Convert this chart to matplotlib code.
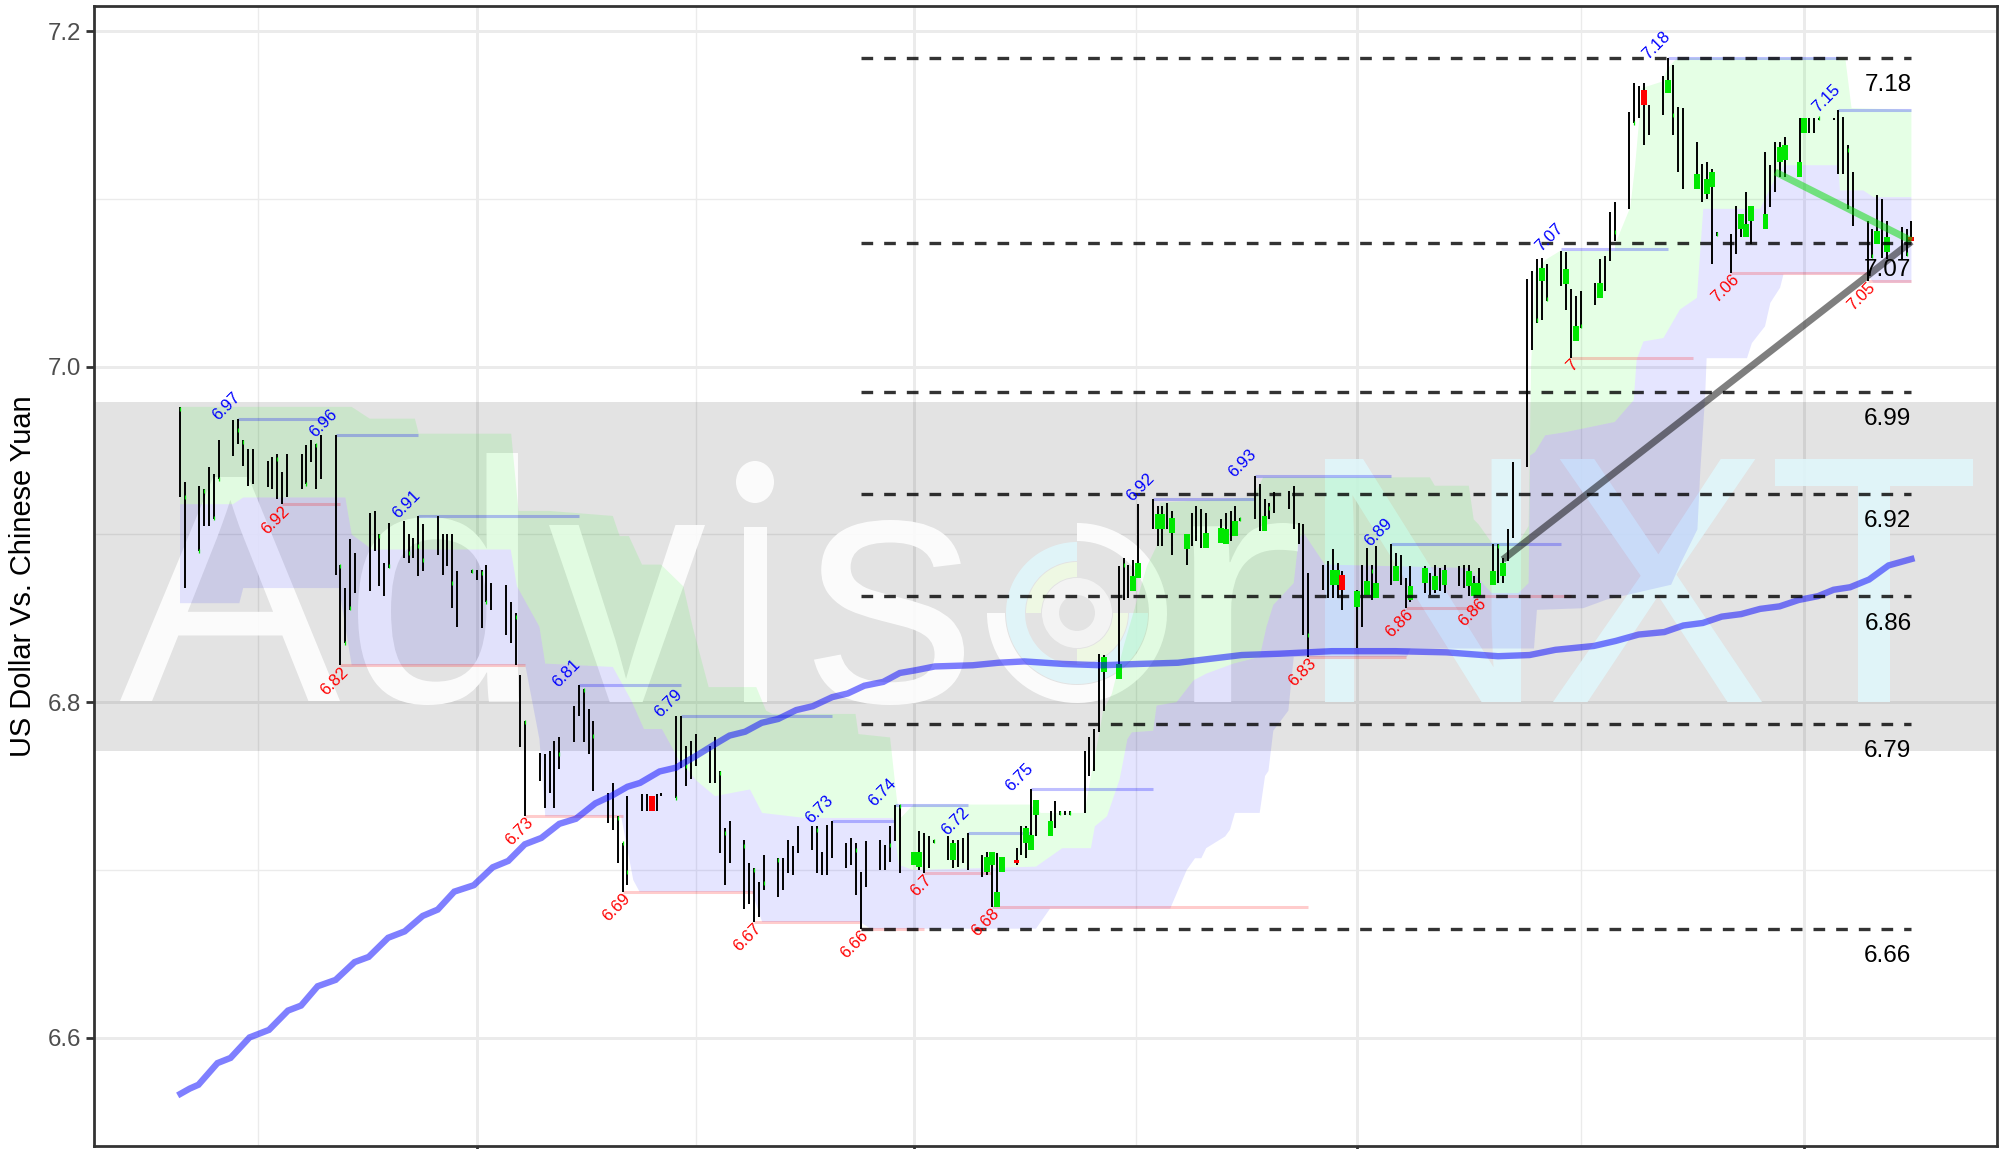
import numpy as np
import matplotlib
matplotlib.use('Agg')
import matplotlib.pyplot as plt
from matplotlib.font_manager import FontProperties
from matplotlib.patches import PathPatch, Wedge, Ellipse
from matplotlib.path import Path
from matplotlib.textpath import TextPath
from matplotlib.transforms import Affine2D, IdentityTransform

plt.rcParams['font.family'] = ['Liberation Sans', 'DejaVu Sans']

# daily bars, x is calendar days from the first bar
bar_d = [0,1,4,5,6,7,8,11,12,13,14,15,18,19,20,21,22,25,26,27,28,29,32,33,34,35,36,39,40,41,42,43,
         46,47,48,49,50,53,54,55,56,57,60,61,62,63,64,67,68,69,70,71,74,75,76,77,78,81,82,83,84,85,
         88,89,90,91,92,95,96,98,99,102,103,104,105,106,109,110,111,112,113,116,117,118,119,120,
         123,124,125,126,127,130,131,132,133,134,137,138,139,140,141,144,145,146,147,148,
         151,152,153,154,155,158,159,160,161,162,165,166,167,168,169,172,173,174,175,176,
         179,180,181,182,183,186,187,188,189,190,193,194,195,196,197,200,201,202,203,204,
         207,208,209,210,211,214,215,216,217,218,221,222,223,224,225,228,229,230,231,232,
         235,236,237,238,239,242,243,244,245,246,249,250,251,252,253,256,257,258,259,260,
         263,264,265,266,267,270,271,272,273,274,277,278,279,280,281,284,285,286,287,288,
         291,292,293,294,295,298,299,300,301,302,305,306,307,308,309,312,313,314,315,316,
         319,320,321,322,323,326,327,328,329,330,333,334,335,336,337,340,341,342,343,344,
         347,348,349,350,351,354,355,356]
bar_high = [6.976,6.931,6.929,6.927,6.940,6.936,6.956,6.968,6.969,6.956,6.951,6.951,6.944,6.946,6.948,6.937,6.948,
            6.948,6.953,6.956,6.954,6.959,6.959,6.882,6.868,6.897,6.889,6.913,6.914,6.900,6.883,6.907,
            6.908,6.900,6.898,6.911,6.906,6.911,6.900,6.900,6.900,6.878,6.879,6.879,6.879,6.882,6.871,
            6.870,6.860,6.853,6.816,6.789,6.770,6.769,6.771,6.777,6.779,6.798,6.810,6.808,6.796,6.789,
            6.746,6.752,6.732,6.716,6.744,6.745,6.745,6.745,6.746,6.792,6.792,6.774,6.777,6.781,
            6.774,6.779,6.759,6.725,6.729,6.718,6.704,6.701,6.693,6.709,
            6.707,6.707,6.718,6.714,6.726,6.726,6.726,6.711,6.727,6.729,6.716,6.719,6.716,6.699,6.717,
            6.718,6.715,6.726,6.739,6.739,
            6.711,6.723,6.722,6.720,6.718,6.720,6.718,6.718,6.719,6.722,6.709,6.711,6.711,6.710,6.708,
            6.713,6.726,6.726,6.748,6.742,
            6.735,6.741,6.735,6.735,6.735,6.771,6.779,6.784,6.829,6.828,6.881,6.886,6.882,6.885,6.918,
            6.921,6.917,6.917,6.919,6.914,
            6.900,6.913,6.917,6.915,6.913,6.909,6.913,6.914,6.917,6.910,6.935,6.930,6.921,6.919,6.925,
            6.926,6.929,6.907,6.906,6.877,
            6.882,6.884,6.891,6.883,6.878,6.867,6.882,6.892,6.882,6.893,6.894,6.889,6.888,6.874,6.881,
            6.881,6.877,6.882,6.880,6.882,
            6.881,6.882,6.882,6.875,6.880,6.894,6.894,6.886,6.903,6.943,7.052,7.057,7.064,7.065,7.061,
            7.069,7.068,7.046,7.042,7.045,
            7.050,7.064,7.066,7.092,7.098,7.152,7.169,7.167,7.169,7.156,7.173,7.184,7.180,7.155,7.154,
            7.134,7.121,7.122,7.118,7.080,
            7.079,7.096,7.091,7.104,7.096,7.128,7.120,7.134,7.134,7.137,7.148,7.148,7.148,7.148,7.148,
            7.148,7.153,7.149,7.132,7.116,
            7.087,7.082,7.102,7.100,7.087,7.083,7.082,7.087]
bar_low = [6.922,6.868,6.890,6.905,6.905,6.909,6.933,6.947,6.954,6.941,6.929,6.930,6.928,6.927,6.921,6.918,6.922,
           6.927,6.930,6.943,6.927,6.933,6.876,6.822,6.835,6.855,6.865,6.866,6.890,6.869,6.863,6.880,
           6.886,6.883,6.886,6.875,6.878,6.888,6.876,6.881,6.856,6.845,6.877,6.873,6.844,6.860,6.855,
           6.840,6.835,6.822,6.773,6.732,6.753,6.737,6.746,6.737,6.760,6.776,6.792,6.776,6.769,6.747,
           6.728,6.724,6.704,6.687,6.691,6.735,6.735,6.735,6.744,6.743,6.761,6.750,6.754,6.762,
           6.752,6.752,6.710,6.691,6.704,6.677,6.680,6.669,6.672,6.688,
           6.684,6.688,6.698,6.697,6.710,6.712,6.698,6.697,6.697,6.707,6.701,6.703,6.685,6.665,6.690,
           6.700,6.700,6.705,6.717,6.698,
           6.703,6.700,6.698,6.701,6.716,6.706,6.701,6.702,6.704,6.700,6.696,6.697,6.678,6.678,6.699,
           6.703,6.709,6.707,6.712,6.720,
           6.720,6.725,6.733,6.733,6.733,6.734,6.756,6.759,6.782,6.795,6.814,6.861,6.862,6.866,6.874,
           6.903,6.893,6.893,6.903,6.888,
           6.882,6.893,6.896,6.892,6.892,6.895,6.894,6.896,6.899,6.908,6.909,6.902,6.902,6.909,6.913,
           6.915,6.903,6.894,6.840,6.827,
           6.867,6.862,6.862,6.862,6.855,6.832,6.845,6.864,6.861,6.862,6.870,6.872,6.870,6.856,6.860,
           6.865,6.864,6.865,6.866,6.865,
           6.869,6.868,6.863,6.863,6.863,6.870,6.871,6.871,6.884,6.898,6.940,7.010,7.026,7.028,7.039,
           7.048,7.034,7.005,7.015,7.023,
           7.037,7.041,7.045,7.063,7.075,7.094,7.145,7.148,7.132,7.138,7.150,7.163,7.138,7.116,7.106,
           7.106,7.098,7.100,7.061,7.078,
           7.056,7.067,7.077,7.077,7.073,7.082,7.095,7.104,7.113,7.113,7.113,7.139,7.139,7.139,7.147,
           7.147,7.115,7.115,7.094,7.084,
           7.051,7.065,7.073,7.065,7.064,7.064,7.066,7.075]

# wide bodies
up_d = [151,152,159,166,167,168,169,174,175,176,179,190,193,196,197,201,202,204,207,211,214,215,217,223,
        237,238,242,244,246,250,253,256,258,260,265,266,267,270,272,280,285,287,292,306,312,314,315,
        321,322,323,326,329,330,333,334,349,351]
up_low = [6.703,6.702,6.706,6.699,6.703,6.678,6.699,6.716,6.712,6.733,6.720,6.818,6.814,6.866,6.874,6.903,6.903,
          6.901,6.891,6.892,6.895,6.894,6.899,6.902,6.870,6.870,6.857,6.864,6.862,6.872,6.861,6.871,6.867,6.870,
          6.869,6.863,6.863,6.870,6.875,7.051,7.049,7.015,7.041,7.163,7.106,7.103,7.107,7.082,7.077,7.087,7.082,
          7.122,7.123,7.113,7.139,7.073,7.068]
up_high = [6.711,6.711,6.716,6.708,6.711,6.687,6.708,6.725,6.721,6.742,6.729,6.827,6.823,6.875,6.883,6.912,6.912,
           6.910,6.900,6.901,6.904,6.903,6.908,6.911,6.879,6.879,6.866,6.872,6.871,6.881,6.869,6.880,6.875,6.879,
           6.878,6.871,6.871,6.878,6.883,7.059,7.058,7.024,7.050,7.171,7.115,7.112,7.116,7.091,7.085,7.096,7.091,
           7.131,7.132,7.122,7.148,7.081,7.077]
down_d = [97,172,239,301,356]
down_low = [6.735,6.704,6.867,7.156,7.075]
down_high = [6.744,6.706,6.876,7.165,7.077]

# thin green ticks on the narrow bars
tick_d = [0,1,4,5,7,8,12,13,20,26,28,33,34,35,41,43,47,49,50,56,60,62,63,69,71,78,83,85,90,91,92,102,
          104,111,112,116,118,120,123,131,139,146,148,155,181,183,194,218,224,232,245,271,279,281,288,295,
          299,307,316,337,343,348,355]
tick_v = [6.975,6.922,6.890,6.926,6.910,6.933,6.962,6.955,6.945,6.930,6.953,6.881,6.835,6.856,6.899,6.881,
          6.889,6.893,6.885,6.871,6.878,6.877,6.860,6.851,6.788,6.769,6.807,6.780,6.731,6.716,6.699,6.743,
          6.762,6.758,6.722,6.714,6.700,6.692,6.706,6.724,6.712,6.715,6.738,6.717,6.734,6.734,6.882,6.909,
          6.916,6.840,6.878,6.893,7.028,7.040,7.024,7.080,7.145,7.150,7.079,7.148,7.129,7.066,7.067]

# rolling band edges, each with its own x positions
upper_d = [0,35.3,39,48.3,49.1,68.1,69.6,75.9,89,90.4,92.3,95,98.9,103.5,105.4,108.7,118.5,120.5,121.8,138.9,139.5,
           146,147.4,148.2,150.8,174.7,177,186,187.3,189,189.8,191.6,194,198.8,200.8,201.5,220.7,222.7,257,258,265,
           266,267,269.7,275.2,277.3,277.8,278.6,280.7,283.8,295,295.1,298.2,299.2,300.6,304.9,305.7,307.8,342.4,
           343.7,356]
upper_v = [6.976,6.976,6.969,6.969,6.960,6.960,6.914,6.914,6.911,6.899,6.899,6.882,6.882,6.869,6.845,6.809,6.809,
           6.795,6.793,6.793,6.781,6.779,6.742,6.731,6.739,6.739,6.734,6.734,6.756,6.781,6.795,6.805,6.833,6.881,
           6.893,6.919,6.922,6.934,6.934,6.929,6.929,6.909,6.906,6.895,6.895,6.905,7.0,7.056,7.0635,7.069,7.069,
           7.073,7.095,7.120,7.166,7.170,7.177,7.184,7.184,7.154,7.153]
mid_d = [0,10.9,13,34,35.3,39.5,68,69.3,73.9,75.1,89,92.8,95.4,99.1,102.5,106.3,110,117.2,119.7,128.5,146.6,147.8,
         150.8,176,181.4,187.3,188.1,190.6,193.2,194.8,195.7,200.1,200.8,204.9,208.4,211,216.6,222,223.4,224.8,229,
         230,231,235.4,265,269.7,275.2,277.3,277.6,278.6,280.7,285,295,298.9,299.5,300.9,305,308.4,311.9,313.2,
         324.9,327.6,329.7,341,341.3,346.1,348.2,356]
mid_v = [6.918,6.918,6.922,6.922,6.900,6.891,6.891,6.869,6.845,6.823,6.821,6.801,6.784,6.784,6.766,6.753,6.744,
         6.748,6.734,6.731,6.731,6.703,6.700,6.702,6.713,6.713,6.726,6.732,6.754,6.778,6.782,6.783,6.798,6.800,
         6.813,6.817,6.823,6.827,6.845,6.858,6.871,6.897,6.901,6.882,6.880,6.865,6.865,6.871,6.947,6.949,6.959,
         6.961,6.967,6.980,7.004,7.015,7.017,7.034,7.041,7.094,7.094,7.110,7.120,7.120,7.105,7.105,7.101,7.101]
lower_d = [0,12.2,13,32.7,35.3,71,73.9,75.1,90.7,93.2,94.5,117.6,119.7,139.8,142,176,178.9,203.6,207,208.7,210,211,
           214.9,215.9,216.9,222,223.1,223.8,224.8,227.9,229,252.3,253,278.4,279,288.5,293.2,306.6,308.6,312,312.6,
           313.6,313.9,322.2,323.2,325.9,327,329,329.7,346.8,348.2,356]
lower_v = [6.859,6.859,6.868,6.868,6.822,6.822,6.778,6.732,6.732,6.694,6.687,6.687,6.669,6.669,6.665,6.665,6.677,
           6.677,6.700,6.707,6.707,6.713,6.720,6.724,6.734,6.734,6.756,6.759,6.783,6.795,6.827,6.827,6.832,6.832,
           6.855,6.856,6.861,6.870,6.883,6.903,6.938,6.983,7.005,7.005,7.014,7.024,7.038,7.047,7.055,7.055,7.050,7.050]

# moving average
ma_d = [0.1,2,3.8,7.7,10.4,14.3,18.3,22.2,24.9,28.3,32,35.9,38.8,42.8,46.2,49.9,53,56.4,60.4,64.3,67.5,70.9,74.3,
        78,81.4,85.4,88.8,92,94.6,98.6,102,106.5,109.9,113,116.2,119.6,123,126.7,130.1,134.1,137.3,140.7,144.6,148,
        151.2,155.2,163,168.3,173.6,181.5,189.4,197.3,205.2,211.7,218.3,226.2,236.8,249.9,260.4,271,277.5,282.8,
        290.7,295.2,299.9,305.2,309.1,313.1,317,321,324.9,328.9,332.8,336.8,340,343.4,347.3,351.3,356]
ma_v = [6.5666,6.5697,6.5720,6.5849,6.5880,6.6002,6.6047,6.6162,6.6192,6.6307,6.6345,6.6451,6.6482,6.6596,6.6634,
        6.6726,6.6764,6.6871,6.6909,6.7016,6.7054,6.7153,6.7191,6.7275,6.7305,6.7397,6.7443,6.7496,6.7519,6.7587,
        6.7610,6.7687,6.7748,6.7801,6.7824,6.7877,6.7900,6.7953,6.7976,6.8030,6.8052,6.8098,6.8121,6.8174,6.8190,
        6.8213,6.8220,6.8235,6.8243,6.8228,6.8220,6.8228,6.8235,6.8258,6.8281,6.8289,6.8304,6.8304,6.8297,6.8274,
        6.8281,6.8312,6.8335,6.8365,6.8403,6.8418,6.8457,6.8472,6.8510,6.8525,6.8556,6.8571,6.8609,6.8632,6.8670,
        6.8685,6.8731,6.8815,6.8853]

# swing highs and lows with their level lines
peak_d = [12,32,49,82,103,134,147,162,175,200,221,249,284,306,341]
peak_end = [30,49,82,103,134,147,162,175,200,221,249,284,306,341,356]
peak_v = [6.969,6.959,6.911,6.810,6.792,6.729,6.739,6.722,6.748,6.921,6.935,6.894,7.070,7.184,7.153]
peak_txt = ['6.97','6.96','6.91','6.81','6.79','6.73','6.74','6.72','6.75','6.92','6.93','6.89','7.07','7.18','7.15']
trough_d = [21,33,71,91,118,140,153,167,232,252,267,286,319,347]
trough_end = [33,71,91,118,140,153,167,232,252,267,286,311,347,356]
trough_v = [6.918,6.822,6.732,6.687,6.669,6.665,6.698,6.678,6.827,6.856,6.863,7.005,7.056,7.051]
trough_txt = ['6.92','6.82','6.73','6.69','6.67','6.66','6.7','6.68','6.83','6.86','6.86','7','7.06','7.05']

# support and resistance
level_v = [7.184,7.0735,6.985,6.924,6.863,6.787,6.665]
level_txt = ['7.18','7.07','6.99','6.92','6.86','6.79','6.66']

trend_d = [272,356]
trend_v = [6.885,7.0745]
fall_d = [328,356]
fall_v = [7.116,7.075]

band_v = [6.771,6.979]
y_major = [6.6,6.8,7.0,7.2]
y_minor = [6.7,6.9,7.1]
x_major = [61,151,242,334]
x_minor = [16,106,196.5,288]

W, H = 2007, 1149
fig = plt.figure(figsize=(W/100, H/100), dpi=100)
ax = fig.add_axes([94/W, (H-1146)/H, 1903/W, 1140/H])
ax.set_xlim(-17.68, 373.6)
ax.set_ylim(6.5355, 7.2149)

for x in x_major:
    ax.axvline(x, color='#ebebeb', lw=2.1, zorder=1)
for x in x_minor:
    ax.axvline(x, color='#ebebeb', lw=1.0, zorder=1)
for y in y_major:
    ax.axhline(y, color='#ebebeb', lw=2.1, zorder=1)
for y in y_minor:
    ax.axhline(y, color='#ebebeb', lw=1.0, zorder=1)
ax.axhspan(band_v[0], band_v[1], color='black', alpha=0.11, lw=0, zorder=1.2)

# watermark logo is a picture in the original, letters stretched into pixel boxes
for ch, x0, x1, yt, yb, col in [('A', 120, 340, 477, 701, 'white'), ('d', 358, 519, 453, 705, 'white'),
                                ('v', 549, 705, 525, 702, 'white'), ('\u0131', 744, 767, 527, 702, 'white'),
                                ('s', 814, 964, 520, 705, 'white'), ('r', 1193, 1298, 523, 702, 'white'),
                                ('N', 1325, 1521, 459, 702, '#e0f7fc'), ('X', 1553, 1762, 459, 702, '#e0f7fc'),
                                ('T', 1775, 1973, 459, 702, '#e0f7fc')]:
    tp = TextPath((0, 0), ch, size=100, prop=FontProperties(family='Liberation Sans'))
    ext = tp.get_extents()
    tr = (Affine2D().translate(-ext.x0, -ext.y0)
          .scale((x1-x0)/ext.width, (yb-yt)/ext.height)
          .translate(x0, H-yb))
    ax.add_patch(PathPatch(Path(tp.vertices, tp.codes), fc=col, ec='none', alpha=0.88,
                           transform=tr, zorder=1.4))
ax.add_patch(Ellipse((755, H-482), 38, 42, fc='white', ec='none', alpha=0.88,
                     transform=IdentityTransform(), zorder=1.4))
cx, cy = 1077, H-613
for r, w, t1, t2, col in [(90, 18, 180, 90, 'white'), (71, 19, 90, 360, '#e0f7fc'), (51, 15, 90, 180, '#f0fce4'),
                          (51, 15, 270, 360, '#f0fce4'), (35, 17, 0, 360, '#f6f6f6')]:
    ax.add_patch(Wedge((cx, cy), r, t1, t2, width=w, fc=col, ec='none', alpha=0.88,
                       transform=IdentityTransform(), zorder=1.4))

# bands
ax.fill(np.r_[upper_d, mid_d[::-1]], np.r_[upper_v, mid_v[::-1]], color='#00ff00', alpha=0.1, lw=0, zorder=2)
ax.fill(np.r_[mid_d, lower_d[::-1]], np.r_[mid_v, lower_v[::-1]], color='#0000ff', alpha=0.1, lw=0, zorder=2)

# level lines off each swing
for d, e, v in zip(peak_d, peak_end, peak_v):
    ax.plot([d, e], [v, v], color='blue', alpha=0.25, lw=2.2, solid_capstyle='butt', zorder=2.5)
for d, e, v in zip(trough_d, trough_end, trough_v):
    ax.plot([d, e], [v, v], color='red', alpha=0.2, lw=2.2, solid_capstyle='butt', zorder=2.5)

# bars
ax.vlines(bar_d, bar_low, bar_high, color='black', lw=1.4, zorder=3)
ax.scatter(tick_d, tick_v, marker='|', s=12, color='#00e000', linewidths=0.9, zorder=3.1)
body_w = 1.2
ax.bar(up_d, np.array(up_high)-np.array(up_low), bottom=up_low, width=body_w, color='#00e800', lw=0, zorder=3.2)
ax.bar(down_d, np.array(down_high)-np.array(down_low), bottom=down_low, width=body_w, color='#ff0000', lw=0, zorder=3.2)

# lines on top
ax.plot(ma_d, ma_v, color='#0000ff', alpha=0.5, lw=4.6, solid_joinstyle='miter', zorder=4)
ax.plot(trend_d, trend_v, color='black', alpha=0.5, lw=5.0, solid_capstyle='butt', zorder=4.1)
ax.plot(fall_d, fall_v, color='#00dd00', alpha=0.5, lw=5.0, solid_capstyle='butt', zorder=4.1)

for v, t in zip(level_v, level_txt):
    ax.plot([140, 356], [v, v], color='black', alpha=0.8, lw=2.4, dashes=(3.5, 3.3), zorder=4.5)
    ax.annotate(t, xy=(356, v), xytext=(0, -19.5), textcoords='offset points', ha='right', va='center',
                fontsize=17.5, color='black', zorder=5)

for d, v, t in zip(peak_d, peak_v, peak_txt):
    ax.annotate(t, xy=(d, v), xytext=(-8.8, 8.6), textcoords='offset points', ha='center', va='center',
                rotation=45, rotation_mode='anchor', fontsize=12, color='blue', zorder=5)
for d, v, t in zip(trough_d, trough_v, trough_txt):
    ax.annotate(t, xy=(d, v), xytext=(3.6, -3.0), textcoords='offset points', ha='right', va='center',
                rotation=45, rotation_mode='anchor', fontsize=12, color='red', zorder=5)

ax.set_xticks(x_major)
ax.set_xticklabels([])
ax.set_yticks(y_major)
ax.set_yticklabels(['6.6', '6.8', '7.0', '7.2'])
ax.tick_params(axis='both', length=5.8, width=2, color='#333333', labelcolor='#4d4d4d', labelsize=17.3, pad=3.5)
for s in ax.spines.values():
    s.set_linewidth(2)
    s.set_color('#333333')
    s.set_zorder(6)
ax.set_ylabel('US Dollar Vs. Chinese Yuan', fontsize=20.9, color='black', va='center')
ax.yaxis.set_label_coords((23-94)/1903, 0.5)

fig.savefig('out.png', dpi=100)
